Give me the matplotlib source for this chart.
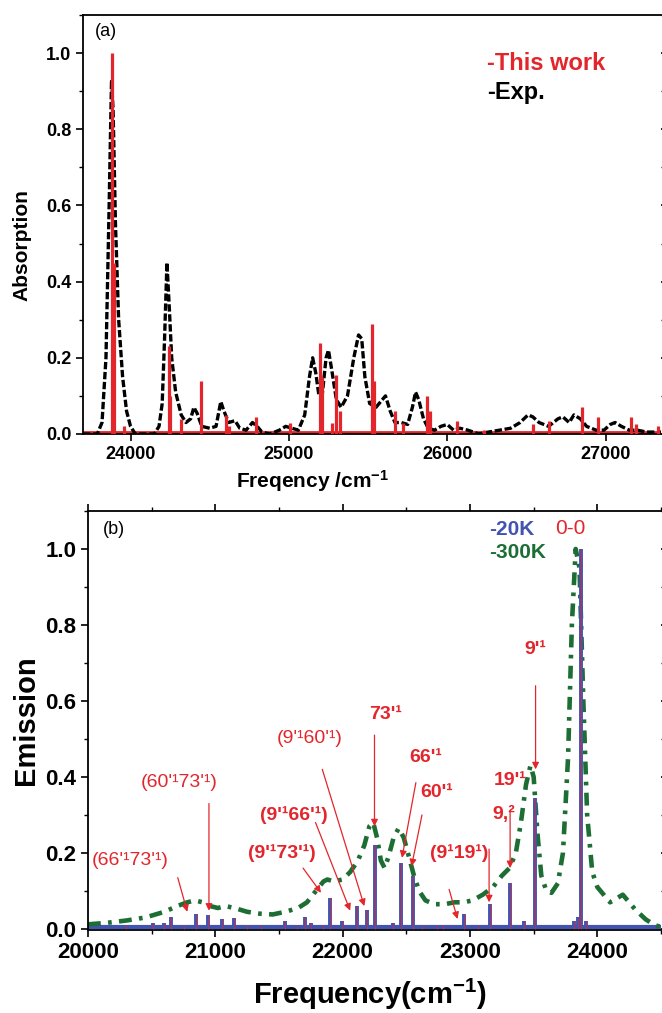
import matplotlib.pyplot as plt
from matplotlib.ticker import MultipleLocator

plt.rcParams["font.family"] = ["Liberation Sans", "DejaVu Sans"]
plt.rcParams["mathtext.fontset"] = "custom"
plt.rcParams["mathtext.rm"] = "Liberation Sans"
plt.rcParams["mathtext.bf"] = "Liberation Sans:bold"
plt.rcParams["mathtext.default"] = "bf"

NARROW = ["Liberation Sans Narrow", "Liberation Sans", "DejaVu Sans"]
RED = "#e3262c"
BLUE = "#4253b0"
GREEN = "#1c6e33"

# (a) absorption: experiment curve, read point by point
exp_freq = [23700, 23790, 23820, 23845, 23865, 23880, 23890, 23905, 23925, 23950,
            23975, 24000, 24030, 24150, 24180, 24200, 24215, 24230, 24245, 24260,
            24285, 24320, 24350, 24380, 24400, 24420, 24450, 24500, 24540, 24570,
            24590, 24620, 24660, 24690, 24730, 24770, 24800, 24830, 24880, 24940,
            24980, 25020, 25060, 25100, 25130, 25150, 25170, 25190, 25210, 25235,
            25250, 25270, 25300, 25330, 25370, 25410, 25440, 25460, 25480, 25510,
            25550, 25590, 25610, 25640, 25670, 25710, 25750, 25780, 25800, 25820,
            25850, 25880, 25920, 25960, 26000, 26040, 26080, 26130, 26200, 26260,
            26330, 26400, 26460, 26510, 26540, 26580, 26640, 26700, 26730, 26770,
            26800, 26840, 26880, 26940, 26990, 27030, 27060, 27100, 27150, 27200,
            27260, 27350]
exp_abs = [0.0, 0.0, 0.03, 0.2, 0.6, 0.93, 0.85, 0.55, 0.3, 0.15,
           0.06, 0.02, 0.0, 0.0, 0.02, 0.08, 0.25, 0.45, 0.33, 0.2,
           0.11, 0.05, 0.03, 0.04, 0.07, 0.055, 0.02, 0.015, 0.02, 0.085,
           0.06, 0.03, 0.035, 0.015, 0.01, 0.03, 0.02, 0.005, 0.0, 0.01,
           0.02, 0.015, 0.01, 0.05, 0.15, 0.2, 0.16, 0.1, 0.1, 0.2,
           0.22, 0.17, 0.09, 0.07, 0.1, 0.2, 0.26, 0.25, 0.15, 0.08,
           0.07, 0.09, 0.1, 0.06, 0.03, 0.03, 0.025, 0.07, 0.11, 0.09,
           0.04, 0.015, 0.01, 0.02, 0.025, 0.01, 0.015, 0.01, 0.0, 0.005,
           0.01, 0.015, 0.03, 0.05, 0.045, 0.03, 0.02, 0.04, 0.045, 0.03,
           0.05, 0.04, 0.02, 0.01, 0.01, 0.025, 0.03, 0.02, 0.01, 0.01,
           0.005, 0.005]

# (a) absorption: calculated sticks (this work)
calc_freq = [23885, 23895, 23960, 24240, 24250, 24320, 24445, 24600, 24620, 24795,
             25010, 25195, 25210, 25270, 25300, 25320, 25525, 25540, 25670, 25720,
             25870, 25890, 26060, 26230, 26540, 26640, 26850, 26950, 27160, 27190,
             27330]
calc_abs = [1.0, 0.45, 0.02, 0.23, 0.1, 0.04, 0.14, 0.05, 0.02, 0.045,
            0.03, 0.24, 0.15, 0.03, 0.155, 0.06, 0.29, 0.14, 0.06, 0.03,
            0.1, 0.06, 0.035, 0.01, 0.025, 0.035, 0.07, 0.045, 0.045, 0.025,
            0.02]

# (b) emission at 20 K: sticks
em20_freq = [20295, 20508, 20597, 20650, 20754, 20852, 20941, 21049, 21148, 21246,
             21361, 21551, 21640, 21705, 21754, 21846, 21902, 21993, 22115, 22190,
             22256, 22393, 22459, 22551, 22623, 22738, 22787, 22951, 23066, 23157,
             23311, 23426, 23508, 23820, 23850, 23875, 23910]
em20_val = [0.01, 0.015, 0.015, 0.03, 0.01, 0.04, 0.037, 0.025, 0.028, 0.01,
            0.01, 0.02, 0.01, 0.03, 0.015, 0.01, 0.08, 0.02, 0.06, 0.05,
            0.22, 0.015, 0.174, 0.14, 0.01, 0.01, 0.01, 0.04, 0.01, 0.065,
            0.12, 0.02, 0.345, 0.02, 0.03, 1.0, 0.02]

# (b) emission at 300 K: broad curve, read point by point
em300_freq = [20000, 20150, 20300, 20450, 20600, 20700, 20780, 20840, 20900, 20960,
              21020, 21080, 21150, 21250, 21350, 21450, 21550, 21650, 21720, 21790,
              21850, 21880, 21930, 22000, 22060, 22120, 22170, 22210, 22240, 22270,
              22300, 22330, 22360, 22400, 22440, 22480, 22520, 22560, 22600, 22650,
              22720, 22800, 22880, 22950, 23020, 23100, 23180, 23250, 23310, 23360,
              23400, 23440, 23475, 23500, 23530, 23560, 23600, 23640, 23690, 23730,
              23770, 23800, 23830, 23860, 23890, 23920, 23960, 24000, 24050, 24100,
              24150, 24200, 24250, 24300, 24380, 24450, 24500]
em300_val = [0.012, 0.016, 0.022, 0.03, 0.045, 0.06, 0.07, 0.075, 0.07, 0.06,
             0.055, 0.06, 0.055, 0.045, 0.04, 0.038, 0.045, 0.055, 0.07, 0.1,
             0.125, 0.13, 0.125, 0.13, 0.15, 0.18, 0.22, 0.27, 0.28, 0.24,
             0.18, 0.16, 0.19, 0.24, 0.265, 0.24, 0.19, 0.14, 0.1, 0.075,
             0.065, 0.065, 0.07, 0.07, 0.075, 0.09, 0.11, 0.14, 0.16, 0.2,
             0.28, 0.38, 0.43, 0.4, 0.25, 0.14, 0.1, 0.095, 0.12, 0.2,
             0.45, 0.8, 1.0, 0.95, 0.6, 0.3, 0.15, 0.11, 0.09, 0.07,
             0.08, 0.09, 0.07, 0.05, 0.025, 0.01, 0.005]

# (b) band assignments: label, label position, arrow tail, arrow head
band_labels = ["(66'¹73'¹)", "(60'¹73'¹)", "(9'¹73'¹)", "(9'¹66'¹)", "(9'¹60'¹)",
               "73'¹", "66'¹", "60'¹", "(9¹19¹)", "9,²", "19'¹", "9'¹"]
band_bold = [False, False, True, True, False, True, True, True, True, True, True, True]
label_x = [20330, 20720, 21519, 21620, 21738, 22340, 22654, 22740, 22912, 23264, 23319, 23515]
label_y = [0.18, 0.385, 0.20, 0.30, 0.50, 0.565, 0.45, 0.36, 0.20, 0.30, 0.39, 0.735]
tail_x = [20705, 20950, 21689, 21787, 21840, 22250, 22575, 22623, 22836, 23150, 23315, 23515]
tail_y = [0.135, 0.33, 0.16, 0.28, 0.42, 0.51, 0.385, 0.30, 0.104, 0.21, 0.31, 0.64]
head_x = [20780, 20950, 21830, 22059, 22170, 22250, 22466, 22541, 22902, 23150, 23315, 23515]
head_y = [0.045, 0.048, 0.095, 0.048, 0.06, 0.27, 0.187, 0.165, 0.026, 0.07, 0.16, 0.42]

fig = plt.figure(figsize=(6.62, 10.13), dpi=100)
ax1 = fig.add_axes([0.1254, 0.5716, 0.8731, 0.4136])
ax2 = fig.add_axes([0.1329, 0.0819, 0.8656, 0.4137])

# ---- panel (a)
ax1.axhline(0.004, color=RED, lw=2.0, zorder=2)
ax1.vlines(calc_freq, 0, calc_abs, color=RED, lw=2.3, zorder=3)
ax1.plot(exp_freq, exp_abs, color="black", lw=2.4, ls=(0, (2.2, 0.8)), zorder=2)
ax1.set_xlim(23700, 27350)
ax1.set_ylim(0, 1.1)
ax1.xaxis.set_major_locator(MultipleLocator(1000))
ax1.yaxis.set_major_locator(MultipleLocator(0.2))
ax1.yaxis.set_minor_locator(MultipleLocator(0.1))
ax1.tick_params(axis="both", which="major", direction="out", length=5, width=1.2)
ax1.tick_params(axis="y", which="minor", direction="out", length=3, width=1.0)
ax1.tick_params(axis="y", right=True, which="both")
for lab in ax1.get_xticklabels() + ax1.get_yticklabels():
    lab.set_family(NARROW)
    lab.set_fontweight("bold")
    lab.set_fontsize(13)
ax1.yaxis.set_major_formatter(plt.FormatStrFormatter("%.1f"))
ax1.spines["right"].set_visible(False)
for s in ["left", "top", "bottom"]:
    ax1.spines[s].set_linewidth(1.3)

ax1.text(0.02, 0.96, "(a)", transform=ax1.transAxes, fontsize=13, va="center",
         family=NARROW)
ax1.text(0.699, 0.885, "-This work", transform=ax1.transAxes, color=RED,
         fontsize=17, fontweight="bold", va="center", family=NARROW)
ax1.text(0.699, 0.814, "-Exp.", transform=ax1.transAxes, color="black",
         fontsize=17, fontweight="bold", va="center", family=NARROW)
fig.text(0.472, 0.525, r"Freqency /cm$^{-1}$", ha="center", va="center",
         fontsize=15, fontweight="bold")
fig.text(0.033, 0.758, "Absorption", rotation=90, ha="center", va="center",
         fontsize=15, fontweight="bold")

# ---- panel (b)
ax2.axhline(0.004, color=BLUE, lw=3, zorder=2)
ax2.plot(em300_freq, em300_val, color=GREEN, lw=3.3, ls=(0, (2.8, 1.6, 0.8, 1.6)), zorder=2)
ax2.vlines(em20_freq, 0, em20_val, color=BLUE, lw=2.8, zorder=3)
ax2.vlines(em20_freq, 0, em20_val, color=RED, lw=0.7, alpha=0.8, zorder=4)

for i, txt in enumerate(band_labels):
    ax2.annotate("", xy=(head_x[i], head_y[i]), xytext=(tail_x[i], tail_y[i]),
                 arrowprops=dict(arrowstyle="-|>", color=RED, lw=0.9,
                                 mutation_scale=10, shrinkA=0, shrinkB=0),
                 zorder=5)
    ax2.text(label_x[i], label_y[i], txt, color=RED, fontsize=14, ha="center", va="center",
             fontweight="bold" if band_bold[i] else "normal", family=NARROW, zorder=6)

ax2.set_xlim(20000, 24500)
ax2.set_ylim(-0.003, 1.1)
ax2.xaxis.set_major_locator(MultipleLocator(1000))
ax2.xaxis.set_minor_locator(MultipleLocator(500))
ax2.yaxis.set_major_locator(MultipleLocator(0.2))
ax2.yaxis.set_minor_locator(MultipleLocator(0.1))
ax2.tick_params(axis="both", which="major", direction="out", length=5, width=1.2)
ax2.tick_params(axis="both", which="minor", direction="out", length=3, width=1.0)
ax2.tick_params(axis="x", which="both", top=True, bottom=True)
ax2.tick_params(axis="y", which="both", right=True)
for lab in ax2.get_xticklabels() + ax2.get_yticklabels():
    lab.set_family(NARROW)
    lab.set_fontweight("bold")
    lab.set_fontsize(16)
ax2.yaxis.set_major_formatter(plt.FormatStrFormatter("%.1f"))
ax2.spines["right"].set_visible(False)
for s in ["left", "top", "bottom"]:
    ax2.spines[s].set_linewidth(1.3)

ax2.text(0.026, 0.955, "(b)", transform=ax2.transAxes, fontsize=13, va="center",
         family=NARROW)
ax2.text(0.70, 0.955, "-20K", transform=ax2.transAxes, color=BLUE, fontsize=15,
         fontweight="bold", va="center", family=NARROW)
ax2.text(0.70, 0.90, "-300K", transform=ax2.transAxes, color=GREEN, fontsize=15,
         fontweight="bold", va="center", family=NARROW)
ax2.text(0.815, 0.957, "0-0", transform=ax2.transAxes, color=RED, fontsize=15,
         va="center", family=NARROW)
fig.text(0.559, 0.018, r"Frequency(cm$^{-1}$)", ha="center", va="center",
         fontsize=21, fontweight="bold")
fig.text(0.040, 0.289, "Emission", rotation=90, ha="center", va="center",
         fontsize=21, fontweight="bold")

fig.savefig("out.png", dpi=100)
